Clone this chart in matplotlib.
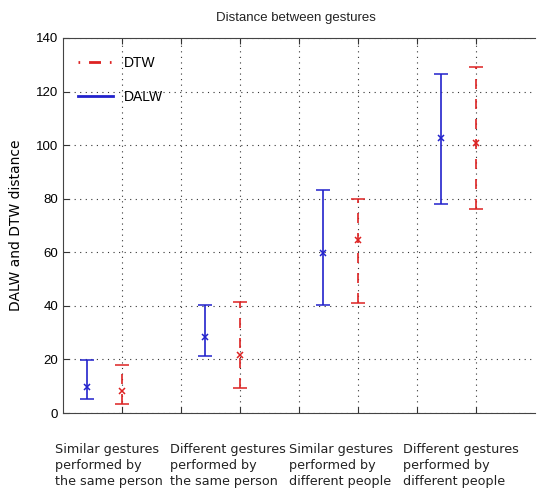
import numpy as np
import matplotlib.pyplot as plt
from matplotlib.lines import Line2D

categories = ['Similar gestures\nperformed by\nthe same person',
              'Different gestures\nperformed by\nthe same person',
              'Similar gestures\nperformed by\ndifferent people',
              'Different gestures\nperformed by\ndifferent people']

dalw_x = [0.4, 2.4, 4.4, 6.4]
dalw_mean = [9.7, 28.4, 59.7, 102.6]
dalw_low = [5.2, 21.3, 40.3, 78.0]
dalw_high = [19.8, 40.3, 83.2, 126.5]

dtw_x = [1, 3, 5, 7]
dtw_mean = [8.2, 21.6, 64.6, 100.8]
dtw_low = [3.4, 9.3, 41.1, 76.1]
dtw_high = [17.9, 41.4, 79.9, 129.2]

blue = '#2222cc'
red = '#dd2222'

fig = plt.figure(figsize=(5.37, 4.96), dpi=100)
ax = fig.add_axes([63/537, 83/496, 472/537, 375/496])

def err(mean, low, high):
    m = np.array(mean)
    return [m - np.array(low), np.array(high) - m]

eb = ax.errorbar(dalw_x, dalw_mean, yerr=err(dalw_mean, dalw_low, dalw_high),
                 fmt='x', color=blue, ms=4.5, mew=1.1, elinewidth=1.2, capsize=5, capthick=1.2)
eb = ax.errorbar(dtw_x, dtw_mean, yerr=err(dtw_mean, dtw_low, dtw_high),
                 fmt='x', color=red, ms=4.5, mew=1.1, elinewidth=1.2, capsize=5, capthick=1.2)
eb[2][0].set_linestyle((0, (6, 6)))

ax.set_xlim(0, 8)
ax.set_ylim(0, 140)
ax.set_xticks(range(1, 8))
ax.set_xticklabels([])
ax.set_yticks(range(0, 141, 20))
ax.tick_params(direction='in', length=4, top=True, labelsize=9.5, color='#333333')
for lab in ax.get_yticklabels():
    lab.set_family('Liberation Sans')
ax.grid(True, linestyle=(0, (1, 4)), color='#333333', linewidth=0.8)
ax.spines['right'].set_visible(False)
for s in ['left', 'bottom', 'top']:
    ax.spines[s].set_color('#444444')

ax.set_ylabel('DALW and DTW distance', fontsize=10, labelpad=9)
fig.text(0.552, 0.975, 'Distance between gestures', ha='center', va='top',
         fontsize=9.5, family='Liberation Sans', color='#222222')

handles = [Line2D([], [], color=red, linestyle=(0, (0.6, 3.2, 4.3, 3.2)), lw=2),
           Line2D([], [], color=blue, linestyle='-', lw=2)]
ax.legend(handles, ['DTW', 'DALW'], loc='upper left', frameon=False,
          bbox_to_anchor=(0.005, 0.985), handlelength=2.5, labelspacing=1.4,
          prop={'family': 'Liberation Sans', 'size': 10})

label_x = [55, 170, 289, 403]
for x, c in zip(label_x, categories):
    fig.text(x/537, 1 - 443/496, c, ha='left', va='top', fontsize=9.2,
             linespacing=1.3, color='#222222')

fig.savefig('out.png', dpi=100)
